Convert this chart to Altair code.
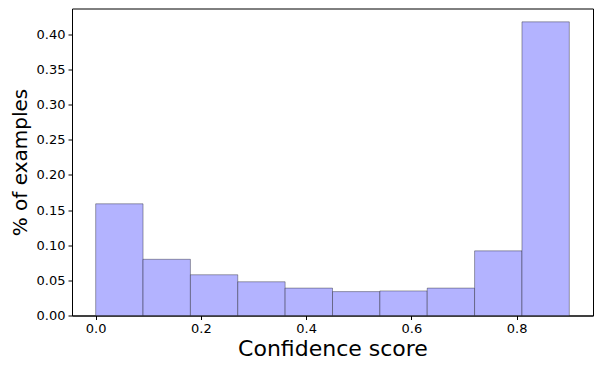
import altair as alt
import pandas as pd

bin_start = [0.0, 0.09, 0.18, 0.27, 0.36, 0.45, 0.54, 0.63, 0.72, 0.81]
bin_end = [0.09, 0.18, 0.27, 0.36, 0.45, 0.54, 0.63, 0.72, 0.81, 0.90]
share = [0.159, 0.080, 0.058, 0.048, 0.039, 0.034, 0.035, 0.039, 0.092, 0.418]

df = pd.DataFrame({"start": bin_start, "end": bin_end, "share": share})

font = "DejaVu Sans"

chart = alt.Chart(df).mark_rect(
    fill="#b3b3ff", stroke="black", strokeOpacity=0.35, strokeWidth=1
).encode(
    x=alt.X("start:Q",
            scale=alt.Scale(domain=[-0.045, 0.945], nice=False, zero=False),
            axis=alt.Axis(title="Confidence score", values=[0, 0.2, 0.4, 0.6, 0.8],
                          format=".1f", grid=False, titleFontSize=22, titleFontWeight="normal",
                          titlePadding=3, labelFontSize=13, tickSize=4, labelPadding=3,
                          domainColor="black", tickColor="black", labelColor="black",
                          titleColor="black", labelFont=font, titleFont=font)),
    x2="end:Q",
    y=alt.Y("share:Q",
            scale=alt.Scale(domain=[0, 0.437], nice=False),
            axis=alt.Axis(title="% of examples", values=[0, 0.05, 0.10, 0.15, 0.20, 0.25, 0.30, 0.35, 0.40],
                          format=".2f", grid=False, titleFontSize=20, titleFontWeight="normal",
                          titlePadding=6, labelFontSize=13, tickSize=4, labelPadding=3,
                          domainColor="black", tickColor="black", labelColor="black",
                          titleColor="black", labelFont=font, titleFont=font)),
    y2=alt.datum(0),
).properties(
    width=521, height=307,
    autosize=alt.AutoSizeParams(type="none"),
    padding={"left": 64, "top": 0.5, "right": 1, "bottom": 50},
).configure_view(stroke="black", strokeWidth=1)

chart.save("out.html", embed_options={"renderer": "svg", "actions": False})
